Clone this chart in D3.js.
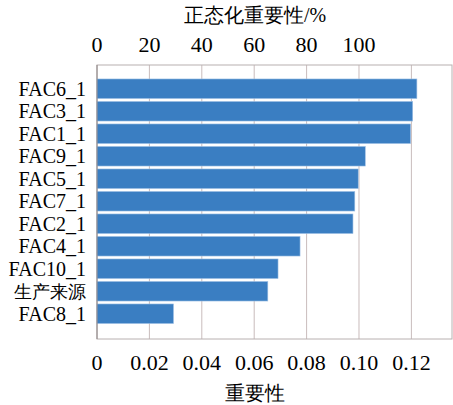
<!DOCTYPE html>
<html>
<head>
<meta charset="utf-8">
<script src="https://cdn.jsdelivr.net/npm/d3@7"></script>
</head>
<body style="margin:0">
<script>
// data
var categories = ["FAC6_1", "FAC3_1", "FAC1_1", "FAC9_1", "FAC5_1", "FAC7_1",
                  "FAC2_1", "FAC4_1", "FAC10_1", "生产来源", "FAC8_1"];
var importance = [0.1221, 0.1205, 0.1197, 0.1024, 0.0997, 0.0984,
                  0.0977, 0.0775, 0.0691, 0.0652, 0.0292];
var bottomTicks = [0, 0.02, 0.04, 0.06, 0.08, 0.10, 0.12];
var topTicks = [0, 20, 40, 60, 80, 100];

var width = 453, height = 405;
var margin = {top: 65, right: 1, bottom: 66, left: 97};

var svg = d3.select("body")
            .append("svg")
            .attr("width", width)
            .attr("height", height);

// scales: bottom in raw importance, top in normalised percent
var xMax = 0.1355;
var x = d3.scaleLinear().domain([0, xMax]).range([margin.left, width - margin.right]);
var xTop = d3.scaleLinear().domain([0, xMax * 1000]).range([margin.left, width - margin.right]);
var y = d3.scaleBand()
          .domain(categories)
          .range([77.5, 325])
          .paddingInner(0.13)
          .paddingOuter(0.065);

var plotTop = margin.top, plotBottom = height - margin.bottom;

// grid lines
svg.append("g")
   .selectAll("line")
   .data(bottomTicks.slice(1))
   .enter().append("line")
   .attr("x1", function(d) { return x(d); })
   .attr("x2", function(d) { return x(d); })
   .attr("y1", plotTop)
   .attr("y2", plotBottom)
   .style("stroke", "#c9bcbc")
   .style("stroke-width", 1);

// frame
svg.append("rect")
   .attr("x", margin.left)
   .attr("y", plotTop)
   .attr("width", width - margin.right - margin.left)
   .attr("height", plotBottom - plotTop)
   .style("fill", "none")
   .style("stroke", "#b8b0b0")
   .style("stroke-width", 1);

// bars
svg.append("g")
   .selectAll("rect")
   .data(importance)
   .enter().append("rect")
   .attr("x", x(0))
   .attr("y", function(d, i) { return y(categories[i]); })
   .attr("width", function(d) { return x(d) - x(0); })
   .attr("height", y.bandwidth())
   .style("fill", "#3a7ec2")
   .style("stroke", "#9fc0e4")
   .style("stroke-width", 0.6);

// left axis line
svg.append("line")
   .attr("x1", margin.left).attr("x2", margin.left)
   .attr("y1", plotTop).attr("y2", plotBottom)
   .style("stroke", "#8c8484")
   .style("stroke-width", 1);

// category labels
svg.append("g")
   .selectAll("text")
   .data(categories)
   .enter().append("text")
   .attr("x", margin.left - 11)
   .attr("y", function(d) { return y(d) + y.bandwidth() / 2 + 7; })
   .style("text-anchor", "end")
   .style("font-family", function(d) { return "'Liberation Serif'"; })
   .style("font-size", function(d) { return d == "生产来源" ? "18px" : "20px"; })
   .text(function(d) { return d; });

// bottom tick labels
svg.append("g")
   .selectAll("text")
   .data(bottomTicks)
   .enter().append("text")
   .attr("x", function(d) { return x(d); })
   .attr("y", 370)
   .style("text-anchor", "middle")
   .style("font-family", function(d) { return "'Liberation Serif'"; })
   .style("font-size", "22px")
   .text(function(d) { return d == 0 ? "0" : d3.format(".2f")(d); });

// top tick labels
svg.append("g")
   .selectAll("text")
   .data(topTicks)
   .enter().append("text")
   .attr("x", function(d) { return xTop(d); })
   .attr("y", 52)
   .style("text-anchor", "middle")
   .style("font-family", function(d) { return "'Liberation Serif'"; })
   .style("font-size", "22px")
   .text(function(d) { return d; });

// axis titles
svg.append("text")
   .attr("x", 255)
   .attr("y", 22)
   .style("text-anchor", "middle")
   .style("font-family", "'Liberation Serif'")
   .style("font-size", "20px")
   .text("正态化重要性/%");

svg.append("text")
   .attr("x", 255)
   .attr("y", 400)
   .style("text-anchor", "middle")
   .style("font-family", "'Liberation Serif'")
   .style("font-size", "20px")
   .text("重要性");
</script>
</body>
</html>
